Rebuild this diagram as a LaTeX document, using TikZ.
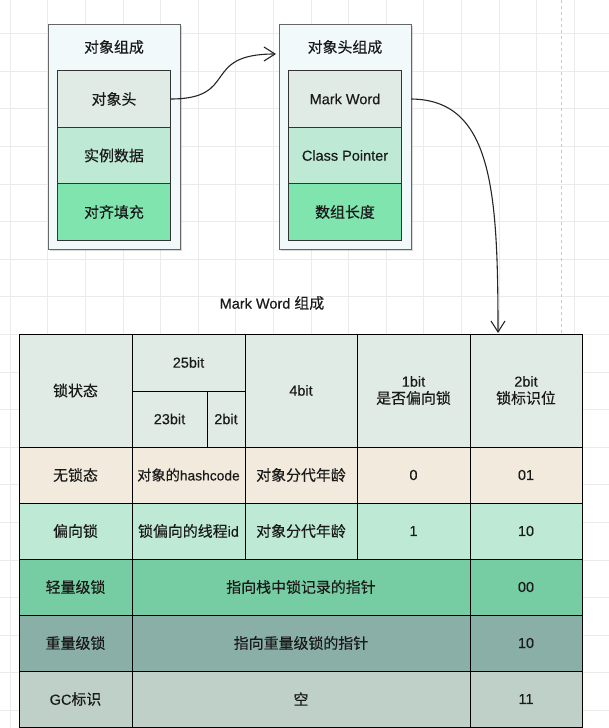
\documentclass[tikz,border=0pt]{standalone}
\usepackage{fontspec}
\setmainfont[FakeBold=0.3]{Liberation Sans}
\newfontfamily\cjk[FakeBold=0.3,Scale=1.03]{Noto Sans CJK SC}
\usetikzlibrary{arrows.meta,positioning,shadows}
\definecolor{cgrid}{HTML}{EBEBEB}
\definecolor{cframe}{HTML}{F1F9FB}
\definecolor{chead}{HTML}{E0EBE6}
\definecolor{cmint}{HTML}{BEEAD5}
\definecolor{cgreen}{HTML}{80E4AF}
\definecolor{cbeige}{HTML}{F2EADC}
\definecolor{cmid}{HTML}{77CDA3}
\definecolor{cslate}{HTML}{8AAFA6}
\definecolor{csage}{HTML}{BED0C8}
\definecolor{cink}{HTML}{1A1A1A}

\begin{document}
\begin{tikzpicture}[x=1pt,y=-1pt,font=\fontsize{14.5}{17}\selectfont,text=cink,
  frame/.style={rectangle,draw=black!60,line width=.9pt,fill=cframe,
                minimum width=132pt,minimum height=225pt,
                drop shadow={shadow xshift=1.5pt,shadow yshift=-2pt,opacity=.3}},
  part/.style={rectangle,draw=black!80,line width=.9pt,outer sep=0pt,
               minimum width=113pt,minimum height=56.5pt},
  cell/.style={rectangle,draw=black,line width=.9pt,outer sep=0pt,
               minimum height=56pt,align=center,inner sep=1pt},
  link/.style={-{Straight Barb[length=11pt,width=14pt]},line width=1.1pt,black!85}]
% background grid
\fill[white] (0,0) rectangle (609,728);
\useasboundingbox (0,0) rectangle (609,728);
\foreach \i in {0,...,15} \draw[cgrid,line width=.6pt] (10+37.6*\i,0) -- (10+37.6*\i,728);
\foreach \i in {0,...,18} \draw[cgrid,line width=.6pt] (0,33.4+37.6*\i) -- (609,33.4+37.6*\i);
\draw[black!22,dashed] (560.7,0) -- (560.7,728);

% object layout
\node[frame] (obj) at (114,136.5) {};
\node (objt) at (114,47) {\cjk 对象组成};
\node[part,fill=chead] (oh) at (114,99) {\cjk 对象头};
\node[part,fill=cmint,below=0pt of oh] (od) {\cjk 实例数据};
\node[part,fill=cgreen,below=0pt of od] (op) {\cjk 对齐填充};

% object header layout
\node[frame] (hdr) at (345,136.5) {};
\node (hdrt) at (345,47) {\cjk 对象头组成};
\node[part,fill=chead] (mw) at (345,99) {Mark Word};
\node[part,fill=cmint,below=0pt of mw] (cp) {Class Pointer};
\node[part,fill=cgreen,below=0pt of cp] (al) {\cjk 数组长度};

\node (mwt) at (272,303) {Mark Word {\cjk 组成}};

% mark word table: header
\node[cell,fill=chead,minimum width=113pt,minimum height=113pt] (state) at (75.5,390.5) {\cjk 锁状态};
\node[cell,fill=chead,minimum width=113pt,minimum height=57pt] (b25) at (188.5,362.5) {25bit};
\node[cell,fill=chead,minimum width=75pt] (b23) at (169.5,419) {23bit};
\node[cell,fill=chead,minimum width=38pt] (b2) at (226,419) {2bit};
\node[cell,fill=chead,minimum width=112pt,minimum height=113pt] (b4) at (301,390.5) {4bit};
\node[cell,fill=chead,minimum width=113pt,minimum height=113pt] (b1) at (413.5,390.5) {1bit\\{\cjk 是否偏向锁}};
\node[cell,fill=chead,minimum width=112pt,minimum height=113pt] (bf) at (526,390.5) {2bit\\{\cjk 锁标识位}};

% rows
\node[cell,fill=cbeige,minimum width=113pt] (nl) at (75.5,475) {\cjk 无锁态};
\node[cell,fill=cbeige,minimum width=113pt,font=\fontsize{13.8}{16}\selectfont] (nlh) at (188.5,475) {{\cjk 对象的}hashcode};
\node[cell,fill=cbeige,minimum width=112pt] (nla) at (301,475) {\cjk 对象分代年龄};
\node[cell,fill=cbeige,minimum width=113pt] (nlb) at (413.5,475) {0};
\node[cell,fill=cbeige,minimum width=112pt] (nlf) at (526,475) {01};

\node[cell,fill=cmint,minimum width=113pt] (bl) at (75.5,531) {\cjk 偏向锁};
\node[cell,fill=cmint,minimum width=113pt] (blt) at (188.5,531) {{\cjk 锁偏向的线程}id};
\node[cell,fill=cmint,minimum width=112pt] (bla) at (301,531) {\cjk 对象分代年龄};
\node[cell,fill=cmint,minimum width=113pt] (blb) at (413.5,531) {1};
\node[cell,fill=cmint,minimum width=112pt] (blf) at (526,531) {10};

\node[cell,fill=cmid,minimum width=113pt] (ll) at (75.5,587) {\cjk 轻量级锁};
\node[cell,fill=cmid,minimum width=338pt] (llp) at (301,587) {\cjk 指向栈中锁记录的指针};
\node[cell,fill=cmid,minimum width=112pt] (llf) at (526,587) {00};

\node[cell,fill=cslate,minimum width=113pt] (hl) at (75.5,643) {\cjk 重量级锁};
\node[cell,fill=cslate,minimum width=338pt] (hlp) at (301,643) {\cjk 指向重量级锁的指针};
\node[cell,fill=cslate,minimum width=112pt] (hlf) at (526,643) {10};

\node[cell,fill=csage,minimum width=113pt] (gc) at (75.5,699) {GC{\cjk 标识}};
\node[cell,fill=csage,minimum width=338pt] (gcp) at (301,699) {\cjk 空};
\node[cell,fill=csage,minimum width=112pt] (gcf) at (526,699) {11};

% connectors
\coordinate (hin) at (276,54);
\coordinate (tin) at (498,333);
\draw[link] (oh.east) .. controls (240,99) and (200,54) .. (hin);
\draw[link] (hdr.east |- mw) .. controls (492,100) and (498,190) .. (tin);
\end{tikzpicture}
\end{document}
